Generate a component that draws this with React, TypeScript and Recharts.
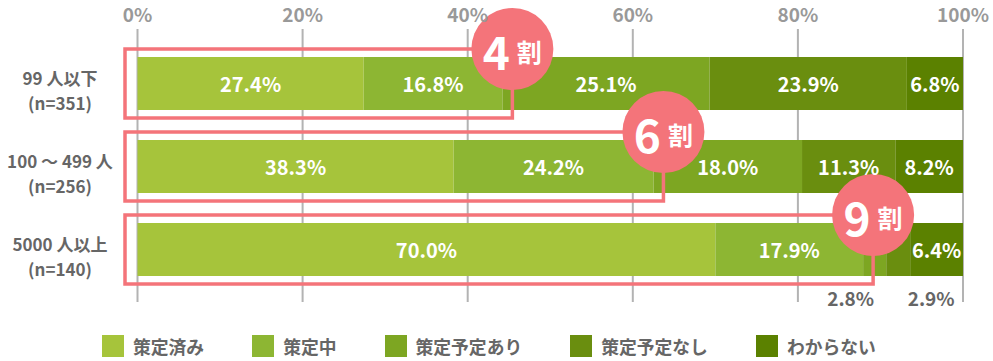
import { BarChart, Bar, XAxis, YAxis, CartesianGrid, LabelList, ReferenceLine } from 'recharts';

const categories = ['99 人以下', '100 〜 499 人', '5000 人以上'];
const sampleSizes = ['(n=351)', '(n=256)', '(n=140)'];
const seriesNames = ['策定済み', '策定中', '策定予定あり', '策定予定なし', 'わからない'];
const done = [27.4, 38.3, 70.0];
const inProgress = [16.8, 24.2, 17.9];
const planned = [25.1, 18.0, 2.8];
const notPlanned = [23.9, 11.3, 2.9];
const unknown = [6.8, 8.2, 6.4];
const callouts = ['4', '6', '9'];
const xTicks = [0, 20, 40, 60, 80, 100];

const seriesKeys = ['done', 'inProgress', 'planned', 'notPlanned', 'unknown'];
const seriesColors = ['#a6c43b', '#8db633', '#7da622', '#6a8e0f', '#5b8100'];
// small segments get their label under the bar, nudged sideways
const smallShift = [0, 0, -24, 33, 0];
const PINK = '#f4747a';
const FONT = "'Noto Sans CJK JP', 'Noto Sans', sans-serif";

const data = categories.map((name, i) => ({
  name,
  n: sampleSizes[i],
  callout: callouts[i],
  done: done[i],
  inProgress: inProgress[i],
  planned: planned[i],
  notPlanned: notPlanned[i],
  unknown: unknown[i],
}));

const makeLabel = (seriesIndex: number) => (props: any) => {
  const { x, y, width, height, value } = props;
  if (value == null) return null;
  const text = `${Number(value).toFixed(1)}%`;
  if (value < 5) {
    return (
      <text
        x={x + width / 2 + smallShift[seriesIndex]}
        y={y + height + 21}
        fill="#666"
        textAnchor="middle"
        dominantBaseline="central"
        fontSize={19}
        fontWeight={700}
        fontFamily={FONT}
      >
        {text}
      </text>
    );
  }
  return (
    <text
      x={x + width / 2}
      y={y + height / 2}
      fill="#fff"
      textAnchor="middle"
      dominantBaseline="central"
      fontSize={20}
      fontWeight={700}
      fontFamily={FONT}
    >
      {text}
    </text>
  );
};

const CategoryTick = ({ y, payload, index }: any) => (
  <g fontFamily={FONT} fontWeight={700} fill="#666" fontSize={17}>
    <text x={60} y={y - 6} textAnchor="middle" dominantBaseline="central">
      {payload.value}
    </text>
    <text x={60} y={y + 19} textAnchor="middle" dominantBaseline="central">
      {sampleSizes[index]}
    </text>
  </g>
);

const PercentTick = ({ x, payload }: any) => (
  <text
    x={x}
    y={13}
    textAnchor="middle"
    dominantBaseline="central"
    fill="#999"
    fontSize={19}
    fontWeight={700}
    fontFamily={FONT}
  >
    {`${payload.value}%`}
  </text>
);

// outline box around the first two segments plus the "N割" badge
const makeCallout = (label: string) => (props: any) => {
  const { x1, x2, y1 } = props;
  const barHalf = 26.5;
  const left = x1 - 12.5;
  const right = x2 + 10;
  const top = y1 - barHalf - 8;
  const bottom = y1 + barHalf + 8;
  return (
    <g>
      <rect
        x={left}
        y={top}
        width={right - left}
        height={bottom - top}
        fill="none"
        stroke={PINK}
        strokeWidth={3.5}
      />
      <circle cx={right} cy={top} r={41} fill={PINK} />
      <text
        x={right - 16}
        y={top + 1}
        fill="#fff"
        textAnchor="middle"
        dominantBaseline="central"
        fontSize={46}
        fontWeight={700}
        fontFamily={FONT}
      >
        {label}
      </text>
      <text
        x={right + 17}
        y={top + 2}
        fill="#fff"
        textAnchor="middle"
        dominantBaseline="central"
        fontSize={25}
        fontWeight={700}
        fontFamily={FONT}
      >
        割
      </text>
    </g>
  );
};

export default function App() {
  return (
    <div style={{ position: 'absolute', left: 0, top: 0, width: 993, height: 361, background: '#fff' }}>
      <BarChart
        width={993}
        height={361}
        data={data}
        layout="vertical"
        margin={{ top: 0, right: 30, bottom: 59, left: 0 }}
      >
        <CartesianGrid horizontal={false} stroke="#b3b3b3" strokeWidth={2} />
        <XAxis
          type="number"
          orientation="top"
          domain={[0, 100]}
          ticks={xTicks}
          height={29}
          axisLine={false}
          tickLine={false}
          tick={<PercentTick />}
        />
        <YAxis
          type="category"
          dataKey="name"
          width={137.5}
          axisLine={false}
          tickLine={false}
          padding={{ top: 13, bottom: 11 }}
          tick={<CategoryTick />}
        />
        {seriesKeys.map((key, i) => (
          <Bar
            key={key}
            dataKey={key}
            name={seriesNames[i]}
            stackId="a"
            fill={seriesColors[i]}
            barSize={53}
            isAnimationActive={false}
          >
            <LabelList dataKey={key} content={makeLabel(i)} />
          </Bar>
        ))}
        {data.map((d) => (
          <ReferenceLine
            key={d.name}
            segment={[
              { x: 0, y: d.name },
              { x: d.done + d.inProgress, y: d.name },
            ]}
            ifOverflow="visible"
            shape={makeCallout(d.callout)}
          />
        ))}
      </BarChart>
      <div
        style={{
          position: 'absolute',
          left: 102,
          top: 335,
          display: 'flex',
          fontFamily: FONT,
          fontWeight: 700,
          fontSize: 17.8,
          color: '#666',
          lineHeight: '22px',
          whiteSpace: 'nowrap',
        }}
      >
        {seriesNames.map((name, i) => (
          <div key={name} style={{ display: 'flex', alignItems: 'center', marginRight: 48 }}>
            <span style={{ width: 22, height: 22, background: seriesColors[i], display: 'inline-block' }} />
            <span style={{ marginLeft: 9 }}>{name}</span>
          </div>
        ))}
      </div>
    </div>
  );
}
